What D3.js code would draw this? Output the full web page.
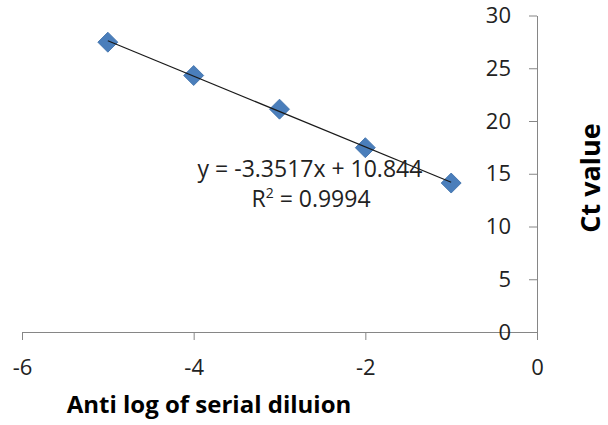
<!DOCTYPE html>
<html>
<head>
<meta charset="utf-8">
<script src="https://cdn.jsdelivr.net/npm/d3@7"></script>
<style>
  body { margin: 0; background: #fff; }
  text { font-family: "Open Sans", sans-serif; }
</style>
</head>
<body>
<div id="chart"></div>
<script>
// dilution points (log) and measured Ct values
var dilutions = [-5, -4, -3, -2, -1];
var ctValues = [27.47, 24.31, 21.12, 17.47, 14.12];
var xTicks = [-6, -4, -2, 0];
var yTicks = [0, 5, 10, 15, 20, 25, 30];
// linear trendline as shown on the chart
var slope = -3.3517, intercept = 10.844, r2 = 0.9994;

var width = 608, height = 425;

var svg = d3.select("#chart")
  .append("svg")
    .attr("width", width)
    .attr("height", height);

var x = d3.scaleLinear()
  .domain([-6, 0])
  .range([22, 537]);

var y = d3.scaleLinear()
  .domain([0, 30])
  .range([332, 15.5]);

// X axis (along y = 0)
var xAxis = svg.append("g")
  .attr("transform", "translate(0," + y(0) + ")")
  .call(d3.axisBottom(x).tickValues(xTicks).tickSizeInner(8).tickSizeOuter(0).tickPadding(19.5));

// Y axis (along x = 0)
var yAxis = svg.append("g")
  .attr("transform", "translate(" + x(0) + ",0)")
  .call(d3.axisLeft(y).tickValues(yTicks).tickSizeInner(8).tickSizeOuter(0).tickPadding(18));

[xAxis, yAxis].forEach(function(a) {
  a.select(".domain").attr("stroke", "#868686");
  a.selectAll(".tick line").attr("stroke", "#868686");
  a.selectAll(".tick text")
    .attr("fill", "#222")
    .style("font-size", "22px")
    .style("font-family", "'Open Sans', sans-serif");
});
// plain hyphen for negatives, like the original
xAxis.selectAll(".tick text").text(function(d) { return String(d); });

// diamond markers
svg.selectAll(".pt")
  .data(dilutions)
  .enter()
  .append("path")
    .attr("class", "pt")
    .attr("d", d3.symbol().type(d3.symbolSquare).size(200))
    .attr("transform", function(d, i) {
      return "translate(" + x(d) + "," + y(ctValues[i]) + ") rotate(45)";
    })
    .attr("fill", "#4a7ebb")
    .attr("stroke", "#3f70aa")
    .attr("stroke-width", 0.8);

// trendline on top of the markers
var xr = d3.extent(dilutions);
svg.append("line")
  .attr("x1", x(xr[0]))
  .attr("y1", y(slope * xr[0] + intercept))
  .attr("x2", x(xr[1]))
  .attr("y2", y(slope * xr[1] + intercept))
  .attr("stroke", "#1a1a1a")
  .attr("stroke-width", 1.2);

// equation label
svg.append("text")
  .attr("x", 310)
  .attr("y", 177)
  .attr("text-anchor", "middle")
  .style("font-size", "23px")
  .attr("fill", "#222")
  .text("y = " + slope + "x + " + intercept);

var r2Text = svg.append("text")
  .attr("x", 311)
  .attr("y", 207)
  .attr("text-anchor", "middle")
  .style("font-size", "23px")
  .attr("fill", "#222");
r2Text.append("tspan").text("R");
r2Text.append("tspan").attr("dy", -9).style("font-size", "14px").text("2");
r2Text.append("tspan").attr("dy", 9).text(" = " + r2);

// axis titles
svg.append("text")
  .attr("x", 209)
  .attr("y", 413)
  .attr("text-anchor", "middle")
  .style("font-size", "24px")
  .style("font-weight", "bold")
  .attr("fill", "#000")
  .text("Anti log of serial diluion");

svg.append("text")
  .attr("transform", "translate(600,178) rotate(-90)")
  .attr("text-anchor", "middle")
  .style("font-size", "27px")
  .style("font-weight", "bold")
  .attr("fill", "#000")
  .text("Ct value");
</script>
</body>
</html>
